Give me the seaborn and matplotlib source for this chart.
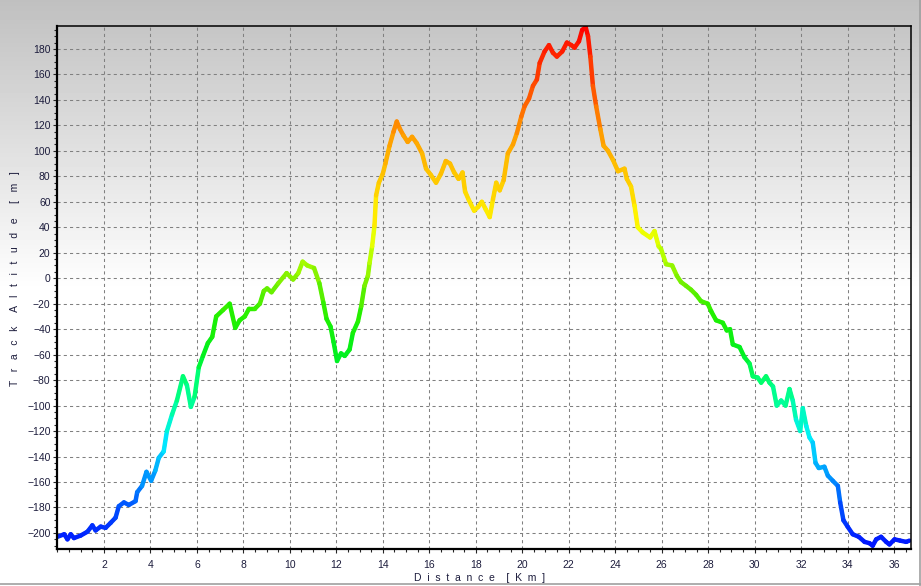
import numpy as np
import pandas as pd
import seaborn as sns
import matplotlib
matplotlib.use("Agg")
import matplotlib.pyplot as plt
from matplotlib.collections import LineCollection
from matplotlib.colors import LinearSegmentedColormap, Normalize
from matplotlib.ticker import MultipleLocator
from matplotlib.lines import Line2D

# track profile (km, m)
dist = [0.0, 0.29, 0.43, 0.57, 0.71, 1.0, 1.29, 1.5, 1.64, 1.86, 2.07, 2.29, 2.5, 2.64, 2.86,
        3.07, 3.36, 3.43, 3.64, 3.83, 4.03, 4.21, 4.36, 4.57, 4.71, 4.93, 5.14, 5.4, 5.57, 5.74,
        5.9, 6.08, 6.26, 6.47, 6.66, 6.83, 7.12, 7.41, 7.65, 7.84, 8.06, 8.24, 8.49, 8.71, 8.88,
        9.02, 9.21, 9.5, 9.86, 10.14, 10.36, 10.55, 10.75, 11.04, 11.27, 11.44, 11.58, 11.75, 11.88,
        12.03, 12.2, 12.36, 12.57, 12.71, 12.93, 13.07, 13.21, 13.36, 13.43, 13.54, 13.64, 13.71,
        13.83, 14.0, 14.11, 14.29, 14.46, 14.6, 14.74, 14.89, 15.07, 15.26, 15.46, 15.69, 15.86,
        16.07, 16.29, 16.5, 16.71, 16.89, 17.07, 17.26, 17.43, 17.54, 17.71, 17.93, 18.1, 18.26,
        18.43, 18.6, 18.74, 18.88, 19.03, 19.2, 19.38, 19.6, 19.77, 19.96, 20.1, 20.29, 20.46,
        20.63, 20.75, 20.96, 21.15, 21.32, 21.49, 21.72, 21.92, 22.11, 22.25, 22.44, 22.58, 22.73,
        22.83, 22.93, 23.04, 23.18, 23.36, 23.5, 23.69, 23.9, 24.12, 24.4, 24.5, 24.68, 24.83,
        24.97, 25.18, 25.5, 25.69, 25.87, 25.97, 26.19, 26.45, 26.65, 26.83, 27.05, 27.26, 27.48,
        27.69, 27.98, 28.13, 28.34, 28.63, 28.8, 28.94, 29.06, 29.35, 29.56, 29.78, 29.92, 30.13,
        30.28, 30.49, 30.64, 30.79, 30.95, 31.14, 31.33, 31.5, 31.64, 31.78, 31.96, 32.07, 32.22,
        32.36, 32.5, 32.62, 32.76, 33.0, 33.15, 33.36, 33.58, 33.68, 33.82, 34.0, 34.22, 34.48,
        34.73, 34.94, 35.08, 35.23, 35.44, 35.66, 35.8, 36.02, 36.26, 36.52, 36.66]
alt = [-203, -201, -205, -201, -204, -202, -199, -194, -198, -195, -196, -192, -188, -179, -176,
       -178, -175, -168, -163, -152, -159, -151, -141, -136, -120, -107, -96, -77, -84, -101,
       -93, -70, -61, -51, -46, -30, -25, -20, -39, -33, -30, -24, -24, -20, -10,
       -8, -11, -4, 4, -1, 4, 13, 10, 8, -4, -19, -32, -38, -50,
       -65, -59, -61, -56, -43, -34, -22, -6, 2, 12, 25, 41, 65,
       75, 82, 90, 104, 115, 123, 117, 112, 107, 111, 106, 98, 86,
       81, 75, 82, 92, 90, 83, 78, 83, 68, 61, 53, 56, 60,
       54, 48, 62, 75, 69, 77, 98, 105, 114, 127, 135, 141, 151,
       156, 169, 178, 183, 177, 174, 178, 185, 183, 181, 186, 195, 197,
       190, 174, 151, 135, 117, 104, 100, 93, 84, 86, 78, 72, 57,
       40, 36, 32, 37, 25, 23, 11, 10, 2, -3, -6, -9, -13,
       -18, -20, -26, -33, -35, -41, -40, -52, -54, -62, -67, -77, -78,
       -82, -77, -82, -85, -100, -96, -100, -87, -96, -111, -120, -102, -116,
       -125, -129, -145, -149, -148, -155, -159, -163, -176, -190, -195, -201, -203,
       -207, -208, -210, -205, -203, -207, -209, -205, -206, -207, -206]

# altitude colour ramp (blue low -> red high)
ramp_vals = [-210, -180, -150, -125, -100, -80, -60, -30, 0, 15, 40, 60, 80, 110, 140, 170, 197]
ramp_cols = ["#0014ff", "#0050ff", "#00aaff", "#00f0ff", "#00ffa0", "#00ff70", "#00f020",
             "#20f000", "#80f000", "#b0ff00", "#ffff00", "#ffe000", "#ffc800", "#ffa000",
             "#ff6000", "#ff3000", "#ff0000"]

df = pd.DataFrame({"Distance": dist, "Altitude": alt})

sns.set_style("ticks")
plt.rcParams["font.family"] = ["Liberation Sans", "DejaVu Sans"]

fig = plt.figure(figsize=(9.21, 5.86), dpi=100)

# grey-to-white background
bg = fig.add_axes([0, 0, 1, 1], zorder=-10)
rows = np.arange(586)
shade = 0.753 + 0.247 * np.clip(rows / 290.0, 0, 1)
bg.imshow(shade[:, None], cmap="gray", vmin=0, vmax=1, aspect="auto", extent=[0, 1, 0, 1])
bg.axis("off")
fig.add_artist(Line2D([0.9985, 0.9985], [0, 1], transform=fig.transFigure, color="#a0a0a0", lw=1.2))
fig.add_artist(Line2D([0, 1], [0.003, 0.003], transform=fig.transFigure, color="#a0a0a0", lw=1.2))

ax = fig.add_axes([0.0624, 0.0631, 0.9268, 0.8925])
ax.set_facecolor("none")

sns.lineplot(data=df, x="Distance", y="Altitude", ax=ax, color="#80f000", lw=2.4,
             estimator=None, sort=False)

pos = [(v - ramp_vals[0]) / (ramp_vals[-1] - ramp_vals[0]) for v in ramp_vals]
cmap = LinearSegmentedColormap.from_list("alt", list(zip(pos, ramp_cols)))
norm = Normalize(ramp_vals[0], ramp_vals[-1])
pts = np.column_stack([dist, alt])
segs = np.stack([pts[:-1], pts[1:]], axis=1)
mids = (np.array(alt[:-1]) + np.array(alt[1:])) / 2
lc = LineCollection(segs, colors=cmap(norm(mids)), linewidths=3.2, capstyle="round", joinstyle="round")
ax.add_collection(lc)

ax.set_xlim(0, 36.73)
ax.set_ylim(-212.6, 198)
ax.set_xticks(np.arange(2, 37, 2))
ax.set_yticks(np.arange(-200, 181, 20))
ax.xaxis.set_minor_locator(MultipleLocator(0.5))
ax.yaxis.set_minor_locator(MultipleLocator(5))
ax.grid(True, which="major", color="#808080", linestyle=(0, (3, 3)), lw=0.75)
ax.tick_params(which="major", direction="out", length=3, width=0.8, labelsize=7.5,
               labelcolor="#1c1c3c")
ax.tick_params(which="minor", direction="out", length=2, width=0.8)
ax.tick_params(axis="y", pad=2)
ax.tick_params(axis="x", pad=5)
ax.set_xlabel("")
ax.set_ylabel("")
for side in ["left", "bottom"]:
    ax.spines[side].set_linewidth(1.6)
for side in ["top", "right"]:
    ax.spines[side].set_linewidth(1.1)
for s in ax.spines.values():
    s.set_color("black")


def spaced(words, gap, word_gap):
    return (" " * word_gap).join((" " * gap).join(w) for w in words)


fig.text(0.0163, 0.524, spaced(["Track", "Altitude", "[m]"], 3, 5), rotation=90,
         ha="center", va="center", fontsize=7.5, color="#1c1c3c")
fig.text(0.5206, 0.0137, spaced(["Distance", "[Km]"], 2, 4), ha="center", va="center",
         fontsize=7.5, color="#1c1c3c")

fig.savefig("out.png", dpi=100)
